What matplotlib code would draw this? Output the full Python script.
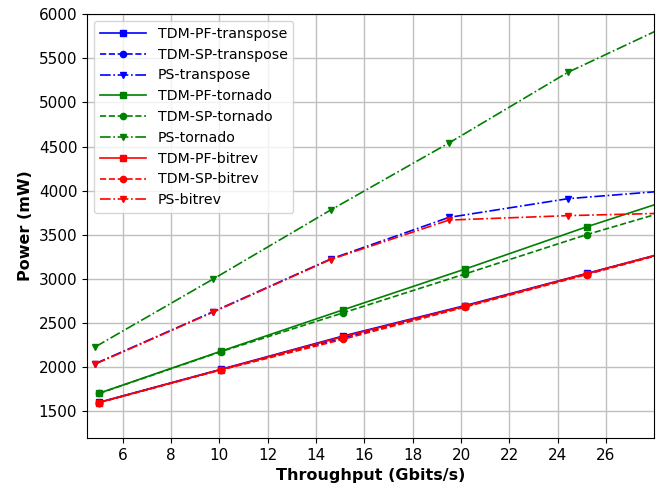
import matplotlib
matplotlib.use('Agg')
import matplotlib.pyplot as plt

# throughput points (Gbits/s)
x_tdm = [5.02, 10.05, 15.1, 20.15, 25.2, 30.25]
x_ps = [4.86, 9.75, 14.6, 19.5, 24.42, 29.3]

# power (mW)
tdm_pf_transpose = [1602, 1975, 2352, 2697, 3062, 3428]
tdm_sp_transpose = [1600, 1972, 2330, 2690, 3055, 3425]
ps_transpose = [2040, 2630, 3225, 3697, 3909, 4015]
tdm_pf_tornado = [1705, 2180, 2648, 3110, 3590, 4040]
tdm_sp_tornado = [1703, 2175, 2614, 3055, 3502, 3907]
ps_tornado = [2230, 3000, 3780, 4540, 5340, 5968]
tdm_pf_bitrev = [1600, 1972, 2345, 2690, 3060, 3428]
tdm_sp_bitrev = [1598, 1968, 2315, 2680, 3050, 3424]
ps_bitrev = [2035, 2625, 3220, 3667, 3717, 3750]

series = [
    ('TDM-PF-transpose', x_tdm, tdm_pf_transpose, 'b', '-', 's'),
    ('TDM-SP-transpose', x_tdm, tdm_sp_transpose, 'b', '--', 'o'),
    ('PS-transpose', x_ps, ps_transpose, 'b', '-.', 'v'),
    ('TDM-PF-tornado', x_tdm, tdm_pf_tornado, 'g', '-', 's'),
    ('TDM-SP-tornado', x_tdm, tdm_sp_tornado, 'g', '--', 'o'),
    ('PS-tornado', x_ps, ps_tornado, 'g', '-.', 'v'),
    ('TDM-PF-bitrev', x_tdm, tdm_pf_bitrev, 'r', '-', 's'),
    ('TDM-SP-bitrev', x_tdm, tdm_sp_bitrev, 'r', '--', 'o'),
    ('PS-bitrev', x_ps, ps_bitrev, 'r', '-.', 'v'),
]

fig = plt.figure(figsize=(6.59, 4.87), dpi=100)
ax = fig.add_axes([0.132, 0.101, 0.8605, 0.870])

for name, xs, ys, c, ls, m in series:
    ax.plot(xs, ys, color=c, linestyle=ls, marker=m, markersize=4.5, linewidth=1.2, label=name)

ax.set_xlim(4.52, 27.99)
ax.set_ylim(1200, 6000)
ax.set_xticks(range(6, 27, 2))
ax.set_yticks(range(1500, 6001, 500))
ax.tick_params(labelsize=11)
ax.grid(True, color='#c0c0c0', linewidth=1)
ax.set_axisbelow(True)
ax.set_xlabel('Throughput (Gbits/s)', fontsize=11.5, fontweight='bold')
ax.set_ylabel('Power (mW)', fontsize=11.5, fontweight='bold')
ax.legend(loc='upper left', fontsize=10.2, handlelength=3.3, labelspacing=0.48)

fig.savefig('out.png', dpi=100)
